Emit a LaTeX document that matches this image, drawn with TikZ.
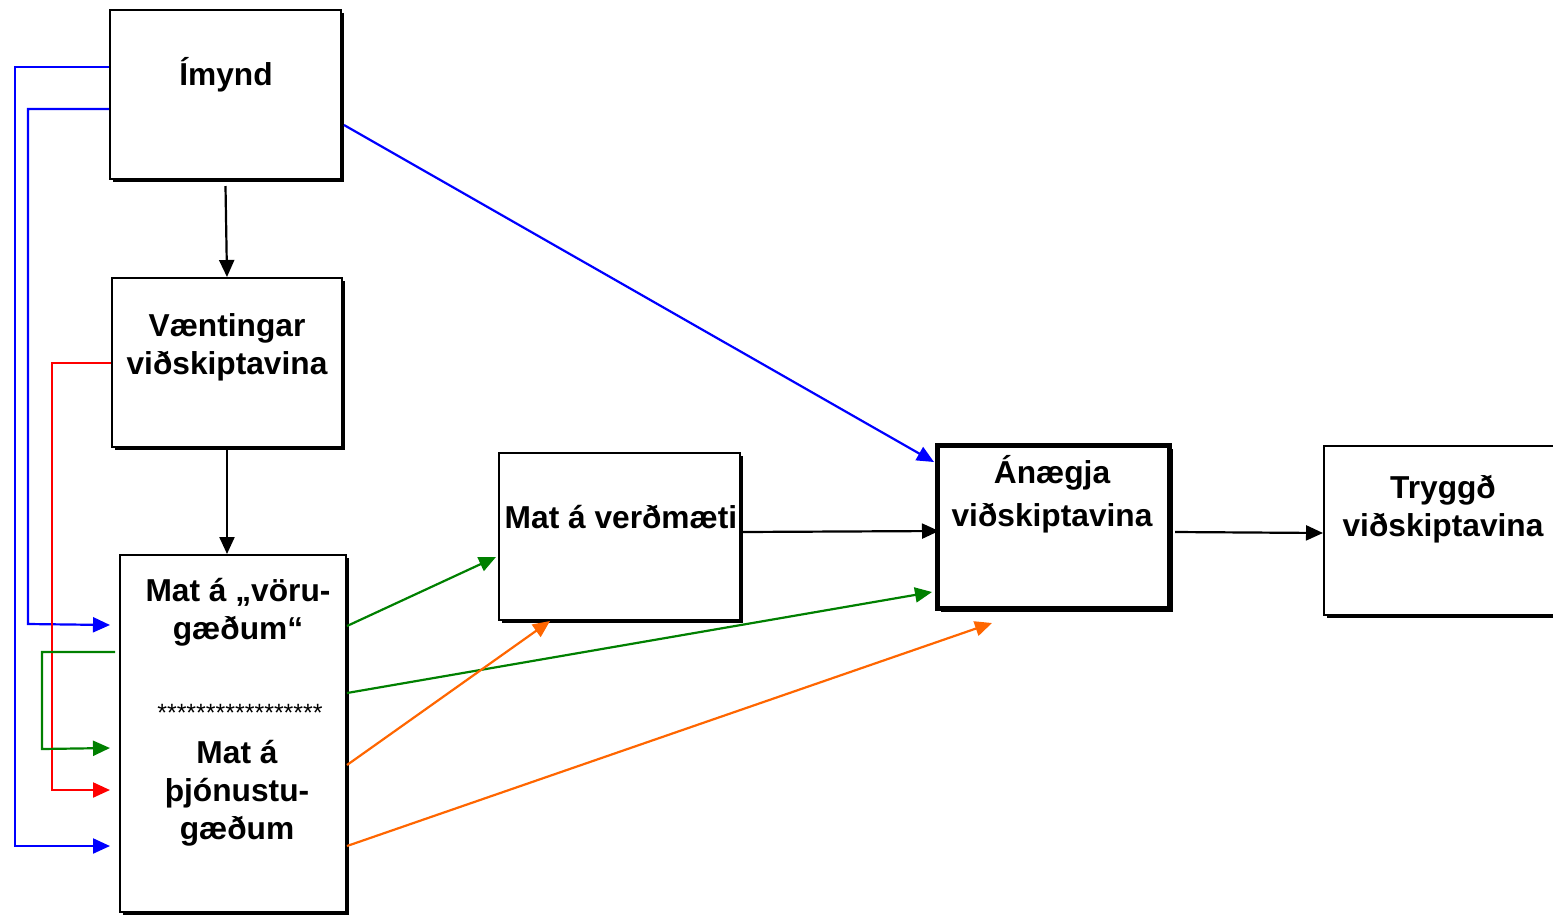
\documentclass[tikz,border=0pt]{standalone}
\usepackage{fontspec}
\setmainfont{Liberation Sans}
\usetikzlibrary{arrows.meta,shadows,calc}
\definecolor{mygreen}{RGB}{0,128,0}
\definecolor{myorange}{RGB}{255,102,0}
\definecolor{myblue}{RGB}{0,0,255}
\definecolor{myred}{RGB}{255,0,0}
\begin{document}
\begin{tikzpicture}[x=1pt,y=-1pt,
  box/.style={draw, fill=white, line width=2pt, inner sep=0pt,
    drop shadow={shadow xshift=3pt, shadow yshift=-3pt, fill=black, opacity=1}},
  lbl/.style={font=\fontsize{31.7}{38}\selectfont\bfseries, align=center, inner sep=0pt},
  conn/.style={line width=2.2pt, -{Triangle[length=17pt,width=15pt]}},
]
\useasboundingbox (0,0) rectangle (1553,914);
% boxes
\node[box, minimum width=231pt, minimum height=169pt] (imynd) at (225.5,94.5) {};
\node[box, minimum width=230pt, minimum height=169pt] (vaent) at (227,362.5) {};
\node[box, minimum width=226pt, minimum height=357pt] (mat) at (233,733.5) {};
\node[box, minimum width=241pt, minimum height=167pt] (verd) at (619.5,536.5) {};
\node[box, line width=5pt, minimum width=232pt, minimum height=163pt] (anaegja) at (1053.5,527) {};
\node[box, minimum width=232pt, minimum height=169pt] (tryggd) at (1440,530.5) {};
% texts
\node[lbl] (timynd) at (226,75) {Ímynd};
\node[lbl] (tvaent) at (227,347) {Væntingar\\viðskiptavina};
\node[lbl] (tvoru) at (238,612) {Mat á „vöru-\\gæðum“};
\node[font=\fontsize{25}{28}\selectfont, inner sep=0pt] (tstars) at (240,713) {*****************};
\node[lbl] (tthj) at (237,793) {Mat á\\þjónustu-\\gæðum};
\node[lbl] (tverd) at (621,517) {Mat á verðmæti};
\node[lbl, font=\fontsize{31.7}{43}\selectfont\bfseries] (tanaegja) at (1052,494) {Ánægja\\viðskiptavina};
\node[lbl] (ttryggd) at (1443,509) {Tryggð\\viðskiptavina};
% helper coordinates
\coordinate (matin) at ([xshift=-9pt]mat.west);
\coordinate (anbot) at ([yshift=-12pt]anaegja.south);
% black connectors
\draw[conn] ([yshift=-6pt]imynd.south) -- (vaent.north);
\draw[conn] (vaent.south) -- (vaent.south |- mat.north);
\draw[conn] (verd.east |- 0,532) -- ([xshift=4pt]anaegja.west |- 0,531);
\draw[conn] ([xshift=3pt]anaegja.east |- 0,532) -- (tryggd.west |- 0,533);
% blue
\draw[conn, myblue] (imynd.west |- 0,67) -- (15,67) -- (15,846) -- (matin |- 0,846);
\draw[conn, myblue] (imynd.west |- 0,109) -- (28,109) -- (28,624) -- (matin |- 0,625);
\draw[conn, myblue] ([xshift=2pt]imynd.east |- 0,125) -- ($(anaegja.north west)+(-1,19)$);
% red
\draw[conn, myred] (vaent.west |- 0,363) -- (52,363) -- (52,790) -- (matin |- 0,790);
% green
\draw[conn, mygreen] ([xshift=-4pt]mat.west |- 0,652) -- (42,652) -- (42,749) -- (matin |- 0,748);
\draw[conn, mygreen] (mat.east |- 0,626) -- ([xshift=-2pt]verd.west |- 0,557);
\draw[conn, mygreen] (mat.east |- 0,693) -- ([xshift=-3pt]anaegja.west |- 0,592);
% orange
\draw[conn, myorange] (mat.east |- 0,765) -- (verd.south -| 550,0);
\draw[conn, myorange] (mat.east |- 0,846) -- (anbot -| 992,0);
\end{tikzpicture}
\end{document}
